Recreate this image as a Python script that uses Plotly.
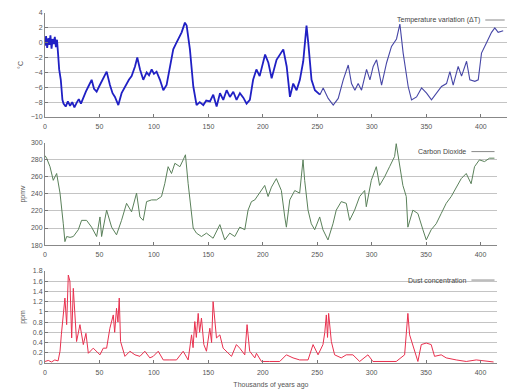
import plotly.graph_objects as go

# ---------------- data ----------------
temp_age = [0, 1, 2, 3, 4, 5, 6, 7, 8, 9, 10, 11, 12, 13, 14.5, 16, 17, 19, 21, 23, 25, 27, 29, 31, 33,
            35.2, 37.5, 39.8, 42.8, 45, 47.4, 50, 52, 54.5, 56.6, 59.6, 62, 64.2, 67.3, 70.3, 72.5, 74.9,
            77, 79.5, 82.6, 84.7, 87.2, 90.2, 93.3, 95.5, 97.9, 100, 102.4, 105.5, 108.6, 111.6, 114.7,
            117.7, 120, 122.3, 125.4, 128.4, 130, 133, 136.1, 139.1, 142, 145.3, 148, 151.4, 154.4,
            157.5, 160.6, 163.6, 166.7, 169.7, 172.8, 175.8, 178.9, 182, 185, 188, 191, 194, 197,
            202, 205, 208, 212.5, 218.7, 221.8, 224.8, 227.8, 230.9, 233.9, 237, 240, 241.6, 244.6,
            247.7, 252.3, 255.3, 259.9, 264.5, 269.1, 273.7, 278.3, 281.3, 284.4, 287.4, 290.5, 295.1,
            298.2, 301.2, 304.3, 308.9, 313.5, 318.0, 322.6, 325.7, 328.7, 333.3, 336.4, 341, 345.6,
            350.2, 354.7, 359.3, 363.9, 368.5, 371.6, 374.6, 379.2, 382.3, 386.9, 389.9, 394.5, 397.6,
            400.6, 405.2, 409.8, 412.8, 415.9, 420.5]
temp_val = [-0.4, 0.9, -0.7, 0.6, -0.3, 1.0, -0.8, 0.5, -0.2, 0.8, -0.6, 0.4, -1.5, -3.6, -5.0, -7.7,
            -8.2, -8.6, -7.9, -8.5, -8.0, -8.7, -8.1, -7.6, -8.2,
            -7.3, -6.6, -5.9, -5.0, -6.2, -6.6, -5.8, -5.2, -4.6, -3.9, -5.7, -6.8, -7.3, -8.4, -6.8, -6.2,
            -5.5, -5.0, -4.5, -3.2, -2.0, -3.6, -5.0, -4.0, -4.4, -3.6, -4.2, -3.9, -5.0, -6.4, -5.7, -3.2,
            -0.9, -0.2, 0.5, 1.4, 2.7, 2.3, -0.9, -5.9, -8.4, -8.0, -8.4, -7.8, -7.9, -7.0, -8.6, -6.8,
            -7.7, -6.4, -7.3, -6.6, -7.7, -6.8, -7.4, -8.2, -7.7, -5.0, -3.6, -4.5, -1.6, -2.7, -4.8, -2.3,
            -0.9, -3.2, -7.3, -5.5, -6.4, -5.0, -2.5, 2.3, 0.0, -5.0, -6.4, -7.0, -6.1, -7.5, -8.4, -7.5,
            -5.0, -3.0, -5.5, -6.4, -5.5, -6.4, -3.6, -5.0, -3.2, -2.3, -5.7, -2.7, -0.5, 0.5, 2.5, -1.4,
            -5.9, -7.7, -7.3, -6.1, -6.8, -7.7, -6.8, -5.9, -5.5, -3.9, -5.7, -3.2, -4.5, -2.5, -5.0,
            -5.2, -5.0, -1.4, 0.0, 1.4, 2.0, 1.4, 1.6]

co2_age = [0, 1.5, 4.6, 7.6, 10.7, 13.8, 16.8, 18.3, 19.9, 23, 26, 30.6, 33.6, 38.2, 42.8, 47.4, 50.5,
           52, 56.6, 61.2, 65.7, 70.3, 74.9, 79.5, 84.1, 87.2, 90.2, 93.3, 97.9, 102.4, 107, 110, 113.1,
           116.2, 119.3, 123.9, 126.9, 129, 131.5, 134.6, 136.1, 139.1, 143.7, 148.3, 154.4, 160.6,
           165.1, 169.7, 174.3, 178.9, 183.5, 186.5, 189.6, 192.7, 197.2, 201.8, 204.9, 208, 212.5,
           217.1, 220.2, 221.7, 224.8, 229.4, 233.9, 237, 238.5, 241.6, 244.6, 247.7, 252.3, 255.3,
           259.9, 264.5, 267.5, 272.1, 276.7, 279.8, 284.4, 289, 293.6, 295.1, 299.7, 304.3, 307.3,
           311.9, 316.5, 321.1, 322.6, 325.7, 328.7, 331.8, 333.3, 337.9, 342.5, 347.1, 350.2, 354.7,
           359.3, 363.9, 368.5, 373.1, 377.7, 382.3, 386.9, 391.4, 394.5, 399, 403.7, 408.3, 412.8]
co2_val = [285, 282, 272, 256, 264, 241, 205, 184, 190, 189, 190, 198, 209, 209, 201, 190, 213, 190,
           221, 201, 192, 209, 229, 219, 241, 213, 209, 231, 233, 233, 237, 252, 272, 264, 276, 272,
           280, 286, 252, 217, 200, 194, 190, 194, 188, 204, 186, 194, 190, 201, 198, 221, 231, 233,
           241, 250, 237, 248, 258, 244, 213, 201, 233, 244, 241, 280, 256, 221, 205, 198, 213, 198,
           186, 205, 221, 231, 229, 209, 221, 237, 244, 225, 256, 272, 250, 260, 272, 284, 299, 276,
           250, 237, 201, 221, 217, 198, 186, 198, 205, 217, 229, 237, 248, 258, 264, 252, 272, 280,
           278, 282, 282]

dust_age = [0, 3, 6, 9, 12, 13.8, 15, 16.8, 18.3, 19.9, 21.4, 22.9, 24.5, 26, 27.5, 29, 32.1, 35.2,
            37.6, 39.8, 44.3, 47.4, 50.5, 53.5, 56.6, 59.6, 62.7, 64, 65.7, 67, 68.2, 69.4, 73.4, 78,
            82.6, 87.2, 91.7, 96.3, 99.4, 104, 108.6, 114.7, 120.8, 126.9, 131.5, 134.6, 136, 137.6,
            139, 140.7, 142, 143.7, 145.9, 148.3, 151.4, 153, 154.4, 157.5, 160.6, 163.6, 166.7, 171.3,
            175.8, 178.9, 183.5, 185.6, 188, 192.7, 194.2, 198.8, 206.4, 215.6, 221.7, 227.8, 233.9,
            241.6, 246.2, 250.8, 255.3, 257, 258.4, 259.5, 260.5, 263, 266, 272.1, 276.7, 282.8, 289,
            296.6, 301.2, 310.4, 322.6, 330.3, 333.3, 334.9, 337.9, 342.5, 345.6, 350.2, 354.7, 357.8,
            363.9, 368.5, 377.7, 386.9, 396.1, 405.2, 412]
dust_val = [0.03, 0.05, 0.02, 0.06, 0.04, 0.23, 0.55, 1.0, 1.27, 0.75, 1.72, 1.6, 0.49, 1.46, 0.81,
            0.42, 0.75, 0.36, 0.58, 0.19, 0.29, 0.23, 0.16, 0.29, 0.29, 0.68, 0.94, 0.6, 1.07, 0.8,
            1.27, 0.42, 0.13, 0.23, 0.16, 0.13, 0.23, 0.1, 0.13, 0.23, 0.06, 0.06, 0.06, 0.23, 0.06,
            0.55, 0.3, 0.81, 0.5, 0.97, 0.6, 0.88, 0.36, 0.23, 0.68, 0.4, 1.2, 0.49, 0.55, 0.29, 0.23,
            0.13, 0.36, 0.29, 0.16, 0.75, 0.23, 0.1, 0.19, 0.03, 0.03, 0.03, 0.16, 0.1, 0.06, 0.06,
            0.36, 0.16, 0.36, 0.6, 0.94, 0.5, 0.97, 0.42, 0.16, 0.1, 0.16, 0.16, 0.03, 0.16, 0.03,
            0.03, 0.03, 0.16, 0.97, 0.55, 0.36, 0.03, 0.36, 0.39, 0.36, 0.13, 0.16, 0.1, 0.06, 0.03,
            0.06, 0.03, 0.02]

temp_ticks = [-10, -8, -6, -4, -2, 0, 2, 4]
co2_ticks = [180, 200, 220, 240, 260, 280, 300]
dust_ticks = [0, 0.2, 0.4, 0.6, 0.8, 1, 1.2, 1.4, 1.6, 1.8]
x_ticks = [0, 50, 100, 150, 200, 250, 300, 350, 400]

# ---------------- figure ----------------
W, H = 507, 389
fig = go.Figure()

# temperature: densely sampled recent part drawn heavier, older part lighter
split = 100  # index where the record becomes sparser (~237 kyr)
fig.add_trace(go.Scatter(x=temp_age[:split + 1], y=temp_val[:split + 1], mode="lines",
                         xaxis="x", yaxis="y", line=dict(color="#2020c4", width=1.8),
                         showlegend=False))
fig.add_trace(go.Scatter(x=temp_age[split:], y=temp_val[split:], mode="lines",
                         xaxis="x", yaxis="y", line=dict(color="#4646a6", width=1.1),
                         showlegend=False))
fig.add_trace(go.Scatter(x=co2_age, y=co2_val, mode="lines", xaxis="x2", yaxis="y2",
                         line=dict(color="#5a805a", width=1), showlegend=False))
fig.add_trace(go.Scatter(x=dust_age, y=dust_val, mode="lines", xaxis="x3", yaxis="y3",
                         line=dict(color="#e8304e", width=1), showlegend=False))

font = dict(family="Liberation Sans, Arial, sans-serif", size=7, color="#555555")
common_x = dict(tickvals=x_ticks, ticks="inside", ticklen=3, tickcolor="#777777",
                showline=True, linecolor="#888888", linewidth=1, showgrid=False,
                zeroline=False, tickfont=font, ticklabelstandoff=3)
common_y = dict(ticks="inside", ticklen=3, tickcolor="#777777", showline=True,
                linecolor="#888888", linewidth=1, showgrid=True, gridcolor="#c4c4c4",
                gridwidth=1, zeroline=False, tickfont=font)

fig.update_layout(
    width=W, height=H,
    margin=dict(l=45, r=0, t=13, b=26, autoexpand=False),
    paper_bgcolor="white", plot_bgcolor="white",
    font=font,
    xaxis=dict(domain=[0, 1], range=[0, 424], anchor="y", **common_x),
    yaxis=dict(domain=[0.703, 1], range=[-10, 4], tickvals=temp_ticks, anchor="x",
               title=dict(text="°C", font=font, standoff=6), **common_y),
    xaxis2=dict(domain=[0, 0.978], range=[0, 415], anchor="y2", **common_x),
    yaxis2=dict(domain=[0.337, 0.629], range=[180, 300], tickvals=co2_ticks, anchor="x2",
                title=dict(text="ppmv", font=font, standoff=4), **common_y),
    xaxis3=dict(domain=[0, 0.978], range=[0, 415], anchor="y3",
                title=dict(text="Thousands of years ago", font=font, standoff=6), **common_x),
    yaxis3=dict(domain=[0, 0.263], range=[0, 1.8], tickvals=dust_ticks, anchor="x3",
                title=dict(text="ppm", font=font, standoff=6), **common_y),
)

# legend-style labels (text followed by a short line sample)
legends = [("Temperature variation (ΔT)", 0.965, 0.98, 1.0),
           ("Carbon Dioxide", 0.935, 0.604, 0.978),
           ("Dust concentration", 0.935, 0.237, 0.978)]
for text, xr, yy, xend in legends:
    fig.add_annotation(text=text, xref="paper", yref="paper", x=xr - 0.02, y=yy,
                       xanchor="right", yanchor="middle", showarrow=False,
                       font=dict(family=font["family"], size=7, color="#444444"))
    fig.add_shape(type="line", xref="paper", yref="paper", x0=xr - 0.012, x1=xend - 0.005,
                  y0=yy, y1=yy, line=dict(color="#888888", width=1))

fig.write_html("out.html", config={"displayModeBar": False},
               post_script="document.body.style.margin='0';")
